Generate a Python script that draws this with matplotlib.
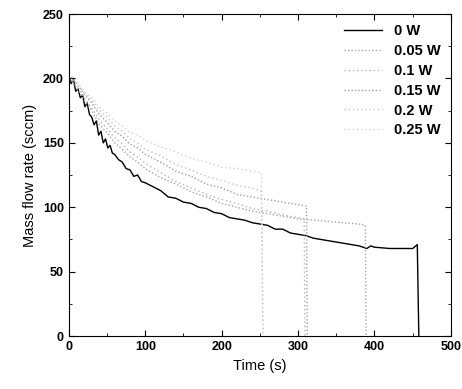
import numpy as np
import matplotlib.pyplot as plt
from matplotlib.ticker import MultipleLocator

plt.rcParams['font.family'] = ['Liberation Sans', 'DejaVu Sans']

# 0 W (black)
t0 = [0, 3, 6, 9, 12, 15, 18, 21, 24, 27, 30, 33, 36, 39, 42, 45, 48, 51, 54, 57,
      60, 65, 70, 75, 80, 85, 90, 95, 100, 110, 120, 130, 140, 150, 160, 170, 180, 190,
      200, 210, 220, 230, 240, 250, 260, 270, 280, 290, 300, 310, 320, 340, 360, 380,
      390, 395, 400, 420, 440, 450, 456, 458]
m0 = [202, 196, 199, 190, 192, 185, 187, 178, 181, 172, 170, 164, 167, 156, 159, 150, 153, 146, 148, 142,
      141, 137, 135, 130, 129, 124, 125, 120, 119, 116, 113, 108, 107, 104, 103, 100, 99, 96,
      95, 92, 91, 90, 88, 87, 86, 83, 83, 80, 79, 78, 76, 74, 72, 70,
      68, 70, 69, 68, 68, 68, 71, 0]

# 0.05 W
t1 = [0, 10, 20, 30, 40, 50, 60, 70, 80, 90, 100, 120, 140, 160, 180, 200, 220, 240,
      260, 280, 300, 320, 340, 360, 380, 388, 389]
m1 = [201, 193, 183, 175, 164, 158, 150, 145, 139, 135, 130, 123, 118, 112, 108, 103, 100, 97,
      95, 93, 91, 90, 89, 88, 87, 86, 0]

# 0.1 W
t2 = [0, 10, 20, 30, 40, 50, 60, 70, 80, 90, 100, 120, 140, 160, 180, 200, 220, 240,
      260, 280, 300, 308, 309]
m2 = [200, 194, 185, 177, 168, 161, 154, 149, 143, 139, 134, 127, 120, 115, 110, 106, 103, 99,
      97, 94, 92, 91, 0]

# 0.15 W
t3 = [0, 10, 20, 30, 40, 50, 60, 70, 80, 90, 100, 120, 140, 160, 180, 200, 220, 240,
      260, 280, 300, 311, 312]
m3 = [203, 196, 188, 181, 172, 166, 159, 155, 149, 146, 141, 135, 128, 124, 118, 115, 110, 108,
      106, 104, 102, 101, 0]

# 0.2 W
t4 = [0, 10, 20, 30, 40, 50, 60, 70, 80, 90, 100, 120, 140, 160, 180, 200, 220, 240,
      252, 254]
m4 = [201, 196, 189, 183, 175, 170, 163, 159, 153, 150, 145, 140, 133, 129, 124, 121, 117, 115,
      112, 0]

# 0.25 W
t5 = [0, 10, 20, 30, 40, 50, 60, 70, 80, 90, 100, 120, 140, 160, 180, 200, 220, 240,
      252, 254]
m5 = [204, 198, 190, 185, 178, 173, 167, 163, 158, 156, 152, 147, 143, 138, 135, 131, 130, 128,
      127, 0]

labels = ['0 W', '0.05 W', '0.1 W', '0.15 W', '0.2 W', '0.25 W']

fig = plt.figure(figsize=(4.62, 3.89), dpi=100)
ax = fig.add_axes([0.149, 0.136, 0.827, 0.828])

ax.plot(t0, m0, color='black', lw=1.0, label=labels[0])
ax.plot(t1, m1, color='#a6a6a6', lw=1.0, ls=(0, (1, 1.5)), label=labels[1])
ax.plot(t2, m2, color='#b4b4b4', lw=1.0, ls=(0, (1, 2)), label=labels[2])
ax.plot(t3, m3, color='#a0a0a0', lw=1.0, ls=(0, (1, 1.5)), label=labels[3])
ax.plot(t4, m4, color='#c4c4c4', lw=1.0, ls=(0, (1, 2)), label=labels[4])
ax.plot(t5, m5, color='#d2d2d2', lw=1.0, ls=(0, (1, 2)), label=labels[5])

ax.set_xlim(0, 500)
ax.set_ylim(0, 250)
ax.xaxis.set_major_locator(MultipleLocator(100))
ax.xaxis.set_minor_locator(MultipleLocator(50))
ax.yaxis.set_major_locator(MultipleLocator(50))
ax.yaxis.set_minor_locator(MultipleLocator(25))
ax.tick_params(which='both', direction='in', top=True, right=True, labelsize=9)
ax.tick_params(which='major', length=4)
ax.tick_params(which='minor', length=2.5)
for lab in ax.get_xticklabels() + ax.get_yticklabels():
    lab.set_fontweight('bold')

ax.set_xlabel('Time (s)', fontsize=10.5)
ax.set_ylabel('Mass flow rate (sccm)', fontsize=10.5)

leg = ax.legend(loc='upper right', frameon=False, fontsize=10.5, handlelength=2.6,
                labelspacing=0.4, borderaxespad=0.3)
for txt in leg.get_texts():
    txt.set_fontweight('bold')

fig.savefig('out.png', dpi=100)
